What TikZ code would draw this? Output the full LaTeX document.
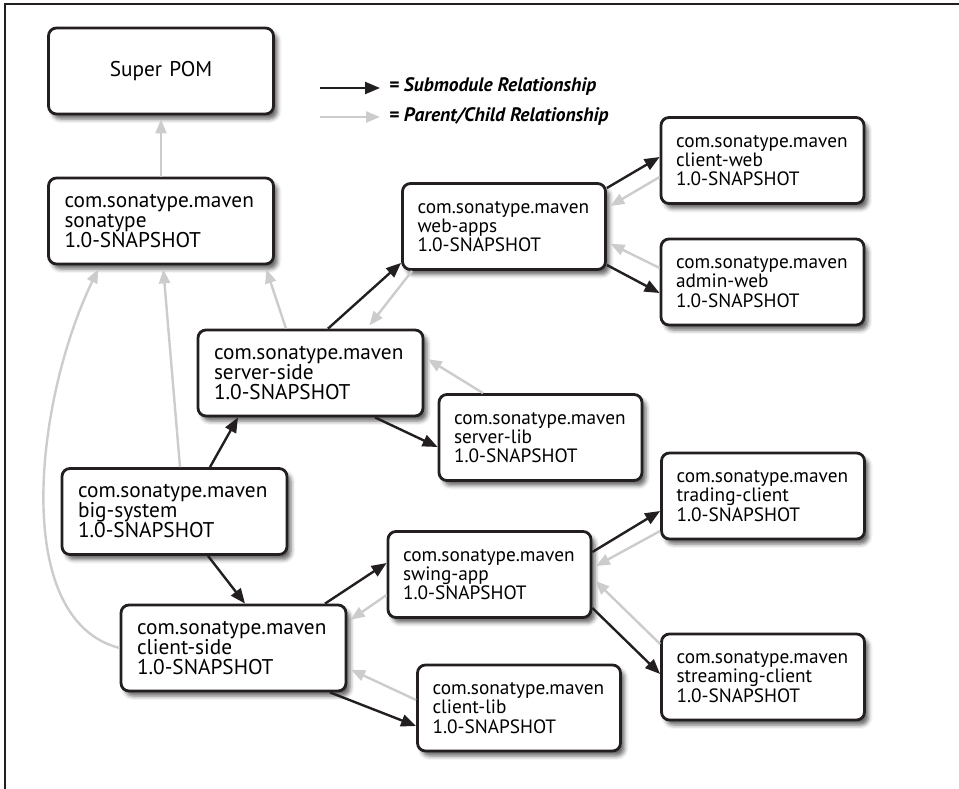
\documentclass[tikz,border=0pt]{standalone}
\usepackage{fontspec}
\setmainfont{PT Sans}
\usetikzlibrary{arrows.meta,shadows.blur}
\definecolor{inkblack}{RGB}{35,31,32}
\definecolor{parentgray}{RGB}{204,204,204}
\begin{document}
\begin{tikzpicture}[x=1pt,y=-1pt,
  pom/.style={draw=inkblack, line width=2.8pt, rounded corners=8pt, fill=white,
    blur shadow={shadow xshift=4pt, shadow yshift=-5pt, shadow blur radius=4pt, shadow opacity=60},
    minimum height=86pt, inner xsep=15pt, text width=173pt, align=left,
    font=\fontsize{19.3}{19.2}\selectfont},
  bigpom/.style={pom, inner xsep=16pt, text width=193pt,
    font=\fontsize{21.3}{20}\selectfont},
  submod/.style={draw=inkblack, line width=2.4pt, -{Triangle[length=15pt,width=12pt]}},
  parent/.style={draw=parentgray, line width=2.4pt, -{Triangle[length=14pt,width=11pt]}, shorten >=4pt},
  legend/.style={anchor=base west, inner xsep=9pt, font=\fontsize{19.5}{20}\bfseries\itshape}
]
\useasboundingbox (0,0) rectangle (959,789);
\draw[line width=1.2pt, inkblack] (5,789) -- (5,4) -- (959,4);

% legend
\coordinate (legsubA) at (320,88);
\coordinate (legparA) at (320,117);
\node[legend] (legsub) at (380,92) {= Submodule Relationship};
\node[legend] (legpar) at (380,122) {= Parent/Child Relationship};
\draw[submod] (legsubA) -- (legsubA -| legsub.west);
\draw[parent, shorten >=0pt] (legparA) -- (legparA -| legpar.west);

% modules
\node[bigpom, align=center] (superpom) at (161,71) {Super POM};
\node[bigpom] (sonatype) at (161,221) {com.sonatype.maven\\sonatype\\1.0-SNAPSHOT};
\node[bigpom] (serverside) at (310.5,373) {com.sonatype.maven\\server-side\\1.0-SNAPSHOT};
\node[bigpom] (bigsys) at (174.5,511.5) {com.sonatype.maven\\big-system\\1.0-SNAPSHOT};
\node[bigpom] (clientside) at (233.5,648) {com.sonatype.maven\\client-side\\1.0-SNAPSHOT};
\node[pom] (webapps) at (504,226.5) {com.sonatype.maven\\web-apps\\1.0-SNAPSHOT};
\node[pom] (clientweb) at (762.5,160.5) {com.sonatype.maven\\client-web\\1.0-SNAPSHOT};
\node[pom] (adminweb) at (762.5,282) {com.sonatype.maven\\admin-web\\1.0-SNAPSHOT};
\node[pom] (serverlib) at (540.5,437.5) {com.sonatype.maven\\server-lib\\1.0-SNAPSHOT};
\node[pom] (trading) at (763,496) {com.sonatype.maven\\trading-client\\1.0-SNAPSHOT};
\node[pom] (swingapp) at (489.5,574.5) {com.sonatype.maven\\swing-app\\1.0-SNAPSHOT};
\node[pom] (streaming) at (763,677) {com.sonatype.maven\\streaming-client\\1.0-SNAPSHOT};
\node[pom] (clientlib) at (519,708) {com.sonatype.maven\\client-lib\\1.0-SNAPSHOT};

% parent/child
\draw[parent] (sonatype.north) -- (superpom.south);
\draw[parent] ([xshift=5.5pt]bigsys.north) -- ([xshift=2pt]sonatype.south);
\draw[parent] (clientside.west) .. controls (10,620) and (35,400) .. ([xshift=-61pt]sonatype.south);
\draw[parent] ([xshift=-24.5pt]serverside.north) -- ([xshift=104pt]sonatype.south);
\draw[parent] ([xshift=-92pt]webapps.south) -- ([xshift=56.5pt]serverside.north);
\draw[parent] ([xshift=-57.5pt]serverlib.north) -- ([yshift=16pt]serverside.east);
\draw[parent] ([yshift=-16.5pt]clientweb.west) -- ([yshift=18.5pt]webapps.east);
\draw[parent] ([yshift=14pt]adminweb.west) -- ([yshift=-15.5pt]webapps.east);
\draw[parent] ([yshift=-20.5pt]swingapp.west) -- ([yshift=26pt]clientside.east);
\draw[parent] ([yshift=8pt]clientlib.west) -- ([yshift=-20pt]clientside.east);
\draw[parent] ([yshift=-35pt]trading.west) -- ([yshift=6.5pt]swingapp.east);
\draw[parent] ([yshift=33pt]streaming.west) -- ([yshift=-3.5pt]swingapp.east);

% submodules
\draw[submod] ([xshift=35.5pt]bigsys.north) -- ([xshift=-72.5pt]serverside.south);
\draw[submod] ([xshift=33.5pt]bigsys.south) -- ([xshift=11.5pt]clientside.north);
\draw[submod] ([xshift=17.5pt]serverside.north) -- ([yshift=8pt]webapps.south west);
\draw[submod] ([xshift=64.5pt]serverside.south) -- ([yshift=-9.5pt]serverlib.west);
\draw[submod] ([yshift=38.5pt]webapps.east) -- ([yshift=3.5pt]clientweb.west);
\draw[submod] ([yshift=-38.5pt]webapps.east) -- ([yshift=-11pt]adminweb.west);
\draw[submod] ([xshift=91.5pt]clientside.north) -- ([yshift=11.5pt]swingapp.west);
\draw[submod] ([xshift=96.5pt]clientside.south) -- ([yshift=-18pt]clientlib.west);
\draw[submod] ([yshift=22.5pt]swingapp.east) -- ([yshift=-15pt]trading.west);
\draw[submod] ([yshift=-33.5pt]swingapp.east) -- ([yshift=3pt]streaming.west);
\end{tikzpicture}
\end{document}
